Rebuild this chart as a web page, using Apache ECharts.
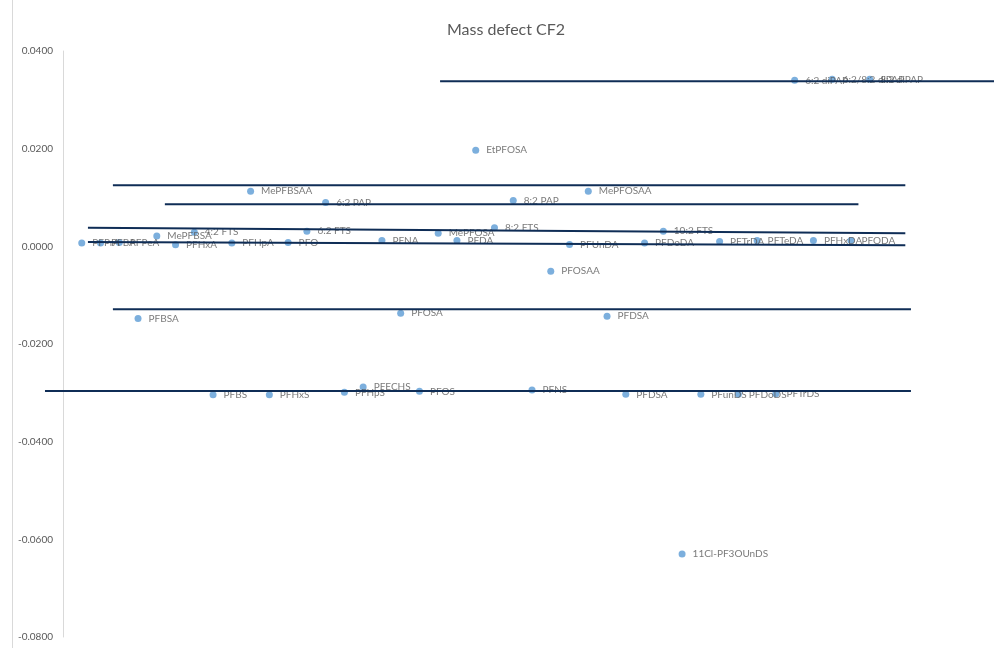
<!DOCTYPE html>
<html>
<head>
<meta charset="utf-8">
<title>Mass defect CF2</title>
<script src="https://cdn.jsdelivr.net/npm/echarts@6/dist/echarts.min.js"></script>
<style>
  html, body { margin: 0; padding: 0; background: #ffffff; }
  #chart { width: 994px; height: 648px; }
</style>
</head>
<body>
<div id="chart"></div>
<script>
// Compounds in plotting order (x position = index)
const compounds = [
  'PFPrA', 'PFBA', 'PFPeA', 'PFBSA', 'MePFBSA', 'PFHxA', '4:2 FTS', 'PFBS', 'PFHpA', 'MePFBSAA',
  'PFHxS', 'PFO', '6:2 FTS', '6:2 PAP', 'PFHpS', 'PFECHS', 'PFNA', 'PFOSA', 'PFOS', 'MePFOSA',
  'PFDA', 'EtPFOSA', '8:2 FTS', '8:2 PAP', 'PFNS', 'PFOSAA', 'PFUnDA', 'MePFOSAA', 'PFDSA', 'PFDSA',
  'PFDoDA', '10:2 FTS', '11Cl-PF3OUnDS', 'PFunDS', 'PFTrDA', 'PFDoDS', 'PFTeDA', 'PFTrDS', '6:2 diPAP', 'PFHxDA',
  '6:2/8:2 diPAP', 'PFODA', '8:2 diPAP'
];
const positions = [
  1, 2, 3, 4, 5, 6, 7, 8, 9, 10,
  11, 12, 13, 14, 15, 16, 17, 18, 19, 20,
  21, 22, 23, 24, 25, 26, 27, 28, 29, 30,
  31, 32, 33, 34, 35, 36, 37, 38, 39, 40,
  41, 42, 43
];
// CF2 mass defect of each compound
const massDefect = [
  0.0007, 0.0007, 0.0008, -0.0148, 0.0021, 0.0003, 0.0029, -0.0304, 0.0007, 0.0113,
  -0.0304, 0.0008, 0.0031, 0.0090, -0.0299, -0.0288, 0.0012, -0.0137, -0.0297, 0.0027,
  0.0012, 0.0197, 0.0038, 0.0094, -0.0294, -0.0051, 0.0004, 0.0113, -0.0143, -0.0303,
  0.0007, 0.0031, -0.0630, -0.0303, 0.0010, -0.0303, 0.0012, -0.0302, 0.0340, 0.0012,
  0.0342, 0.0012, 0.0342
];

// Homologue reference lines: start/end x and start/end mass defect
const lineStartX = [20.1, 2.66, 5.43, 1.33, 1.33, 2.66, -0.96];
const lineEndX   = [50.0, 44.9, 42.4, 44.9, 44.9, 45.2, 45.2];
const lineStartY = [0.0338, 0.0125, 0.0086, 0.0038, 0.0009, -0.0129, -0.0296];
const lineEndY   = [0.0338, 0.0125, 0.0086, 0.0027, 0.0002, -0.0129, -0.0296];

// Axis ranges and ticks
const xMin = -3, xMax = 50;
const yMin = -0.08, yMax = 0.04, yStep = 0.02;

const FONT = 'Lato';
const UNIT = 18.76;            // pixels per x unit
const AXIS_X = 63;             // pixel where the value axis crosses x = 0
const GRID_LEFT = AXIS_X + xMin * UNIT;
const points = compounds.map((name, i) => ({ name: name, value: [positions[i], massDefect[i]] }));

const lineSeries = lineStartX.map((x0, i) => ({
  type: 'line',
  data: [[x0, lineStartY[i]], [lineEndX[i], lineEndY[i]]],
  symbol: 'none',
  silent: true,
  z: 5,
  lineStyle: { color: '#0f2d56', width: 2 }
}));

const chart = echarts.init(document.getElementById('chart'), null, { renderer: 'canvas' });
chart.setOption({
  backgroundColor: '#ffffff',
  animation: false,
  title: {
    text: 'Mass defect CF2',
    left: 501,
    textAlign: 'center',
    top: 17,
    textStyle: { fontFamily: FONT, fontSize: 16, fontWeight: 'normal', color: '#595959' }
  },
  grid: {
    left: GRID_LEFT,
    width: (xMax - xMin) * UNIT,
    top: 51, bottom: 11,
    containLabel: false,
    outerBoundsMode: 'none'
  },
  xAxis: {
    type: 'value', min: xMin, max: xMax, show: false
  },
  yAxis: {
    type: 'value', min: yMin, max: yMax, interval: yStep,
    position: 'left',
    offset: -(AXIS_X - GRID_LEFT),
    axisLine: { show: true, onZero: false, lineStyle: { color: '#d9d9d9', width: 1 } },
    axisTick: { show: false },
    splitLine: { show: false },
    axisLabel: {
      margin: 10,
      fontFamily: FONT, fontSize: 10, color: '#595959',
      formatter: v => v.toFixed(4)
    }
  },
  graphic: [{
    type: 'line',
    shape: { x1: 12.5, y1: 0, x2: 12.5, y2: 648 },
    style: { stroke: '#d9d9d9', lineWidth: 1 },
    silent: true
  }],
  series: [{
    type: 'scatter',
    data: points,
    symbol: 'circle',
    symbolSize: 7,
    z: 3,
    itemStyle: { color: '#5b9bd5' },
    label: {
      show: true,
      position: 'right',
      distance: 7,
      formatter: '{b}',
      fontFamily: FONT, fontSize: 10, color: '#595959'
    }
  }].concat(lineSeries)
});
</script>
</body>
</html>
